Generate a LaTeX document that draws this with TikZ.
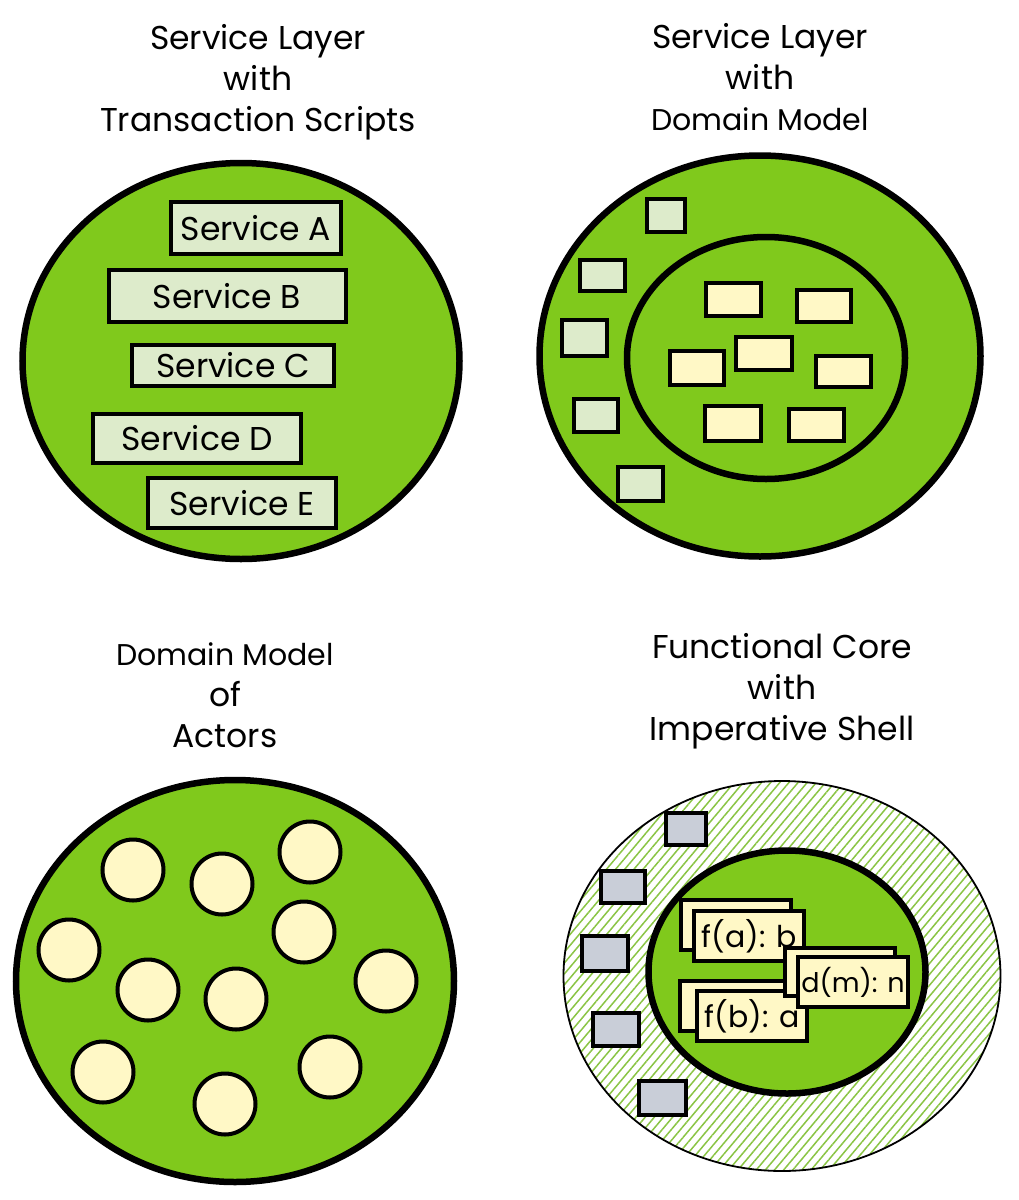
\documentclass[tikz,border=0pt]{standalone}
\usepackage{fontspec}
\setmainfont{Poppins}
\usetikzlibrary{shapes.geometric,patterns.meta}
\definecolor{layergreen}{HTML}{80C91C}
\definecolor{hatchgreen}{HTML}{8AC444}
\definecolor{boxgreen}{HTML}{DDEBCB}
\definecolor{boxyellow}{HTML}{FFF8C6}
\definecolor{boxgray}{HTML}{C9CED8}
\newcommand{\narrowline}{\fontsize{30}{41}\selectfont}
\tikzset{
    title/.style={align=center,font=\fontsize{33}{41}\selectfont},
    layer/.style={ellipse,draw=black,fill=layergreen,line width=6.5pt,inner sep=0pt},
    shell/.style={ellipse,draw=black,line width=1.8pt,inner sep=0pt,
        pattern={Lines[angle=50,distance=7pt,line width=1.5pt]},pattern color=hatchgreen},
    servicebox/.style={draw=black,fill=boxgreen,line width=4pt,inner sep=0pt,font=\fontsize{33}{38}\selectfont},
    modelbox/.style={draw=black,fill=boxyellow,line width=4pt,inner sep=0pt},
    grayboxed/.style={draw=black,fill=boxgray,line width=4pt,inner sep=0pt},
    actor/.style={circle,draw=black,fill=boxyellow,line width=4pt,inner sep=0pt,minimum size=61pt},
    funcbox/.style={modelbox,minimum width=110pt,minimum height=50pt,font=\fontsize{30}{34}\selectfont}
}
\begin{document}
\begin{tikzpicture}[x=1pt,y=-1pt]
\useasboundingbox (0,0) rectangle (1019,1200);

%% Top left
\node[title](t1) at (258,82){Service Layer\\with\\Transaction Scripts};
\node[layer,minimum width=437pt,minimum height=396pt](o1) at (241,361){};

\node[servicebox,minimum width=170pt,minimum height=52pt](sa) at (256,228){Service A};
\node[servicebox,minimum width=237pt,minimum height=52pt](sb) at (227,296){Service B};
\node[servicebox,minimum width=202pt,minimum height=41pt](sc) at (233,365){Service C};
\node[servicebox,minimum width=208pt,minimum height=49pt](sd) at (197,438){Service D};
\node[servicebox,minimum width=188pt,minimum height=50pt](se) at (242,503){Service E};

%% Top right
\node[title](t2) at (760,77){Service Layer\\with\\{\narrowline Domain Model}};
\node[layer,minimum width=441pt,minimum height=401pt](o2) at (760,356){};
\node[layer,minimum width=278pt,minimum height=242pt](i2) at (766,358){};

% Services
\node[servicebox,minimum width=38pt,minimum height=33pt](g1) at (666,215){};
\node[servicebox,minimum width=45pt,minimum height=31pt](g2) at (602,275){};
\node[servicebox,minimum width=45pt,minimum height=36pt](g3) at (584,338){};
\node[servicebox,minimum width=44pt,minimum height=33pt](g4) at (596,415){};
\node[servicebox,minimum width=45pt,minimum height=34pt](g5) at (640,484){};

% Entities
\node[modelbox,minimum width=55pt,minimum height=33pt](y1) at (733,299){};
\node[modelbox,minimum width=54pt,minimum height=32pt](y2) at (824,306){};
\node[modelbox,minimum width=54pt,minimum height=34pt](y3) at (697,368){};
\node[modelbox,minimum width=56pt,minimum height=33pt](y4) at (764,353){};
\node[modelbox,minimum width=55pt,minimum height=31pt](y5) at (843,371){};
\node[modelbox,minimum width=56pt,minimum height=35pt](y6) at (733,423){};
\node[modelbox,minimum width=55pt,minimum height=32pt](y7) at (816,425){};

%% Bottom left
\node[title](t3) at (225,695){{\narrowline Domain Model}\\of\\Actors};
\node[layer,minimum width=438pt,minimum height=402pt](o3) at (235,981){};

\node[actor](a1) at (133,870){};
\node[actor](a2) at (222,884){};
\node[actor](a3) at (310,852){};
\node[actor](a4) at (304,932){};
\node[actor](a5) at (69,950){};
\node[actor](a6) at (148,990){};
\node[actor](a7) at (236,999){};
\node[actor](a8) at (386,981){};
\node[actor](a9) at (103,1072){};
\node[actor](a10) at (330,1067){};
\node[actor](a11) at (225,1104){};

%% Bottom right
\node[title](t4) at (782,691){Functional Core\\with\\Imperative Shell};
\node[shell,minimum width=437pt,minimum height=390pt](o4) at (782,976){};
\node[layer,minimum width=277pt,minimum height=243pt](i4) at (787,972){};

% Shell
\node[grayboxed,minimum width=40pt,minimum height=32pt](b1) at (686,829){};
\node[grayboxed,minimum width=44pt,minimum height=32pt](b2) at (623,887){};
\node[grayboxed,minimum width=46pt,minimum height=35pt](b3) at (605,953){};
\node[grayboxed,minimum width=46pt,minimum height=33pt](b4) at (616,1029){};
\node[grayboxed,minimum width=47pt,minimum height=34pt](b5) at (662,1098){};

% Core
\node[funcbox](fa) at (736,925){};
\node[funcbox](fa2) at (749,936){f(a): b};
\node[funcbox](fb) at (735,1006){};
\node[funcbox](fb2) at (752,1016){f(b): a};
\node[funcbox,minimum height=48pt](dm) at (840,972){};
\node[funcbox,font=\fontsize{27}{32}\selectfont](dm2) at (853,982){d(m): n};

\end{tikzpicture}
\end{document}
